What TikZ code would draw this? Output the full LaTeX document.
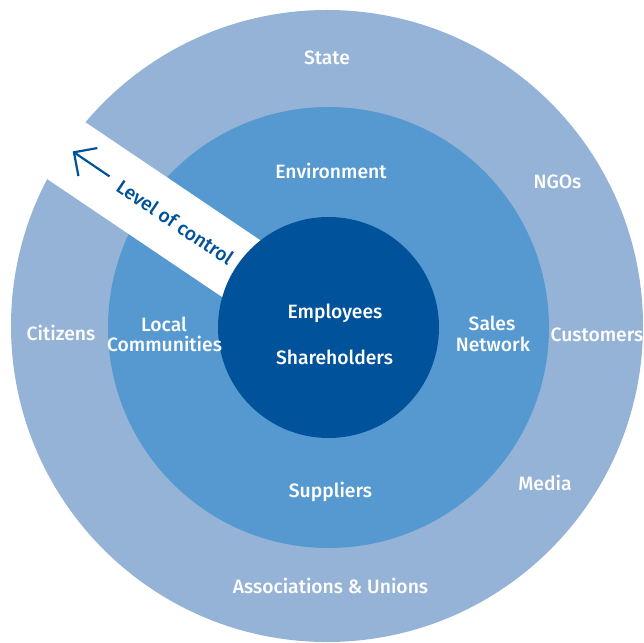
\documentclass[tikz,border=0pt]{standalone}
\usepackage{fontspec}
\setmainfont{Fira Sans}[UprightFont=* Medium]
\definecolor{outerblue}{RGB}{149,179,215}
\definecolor{midblue}{RGB}{85,153,208}
\definecolor{innerblue}{RGB}{0,82,155}
\begin{document}
\begin{tikzpicture}[x=1pt,y=1pt,
  lbl/.style={text=white, inner sep=0pt, text height=13pt, text depth=0pt,
              font=\fontsize{19.3}{23}\selectfont},
  ctrltext/.style={text=innerblue, inner sep=0pt, text height=13pt, text depth=0pt,
              font=\fontsize{19.3}{23}\selectfont},
  ctrlarrow/.style={draw=innerblue, line width=2.2pt, line join=miter}]
\useasboundingbox (-328.5,-314.5) rectangle (315.5,327.5);

% three stakeholder rings
\fill[outerblue] (-1.5,1.5) circle[radius=316];
\fill[midblue] (0,0) circle[radius=220.5];

% white band with the "level of control" pointer
\begin{scope}[rotate=146]
  \fill[white] (0,-34.2) rectangle (430,34.2);
  \coordinate (tail) at (266,-2.8);
  \coordinate (tip) at (309,-2.9);
  \coordinate (armA) at (292,14.3);
  \coordinate (armB) at (292,-19.5);
  \draw[ctrlarrow] (tail) -- (tip);
  \draw[ctrlarrow] (armA) -- (tip) -- (armB);
  \node[ctrltext, rotate=-34] (control) at (186,-0.9) {Level of control};
\end{scope}

\fill[innerblue] (0,0) circle[radius=110.5];

% outer ring
\node[lbl] (state) at (-1.5,269.5) {State};
\node[lbl] (ngos) at (229,145.5) {NGOs};
\node[lbl] (customers) at (268.5,-7.5) {Customers};
\node[lbl] (media) at (216.5,-156.5) {Media};
\node[lbl] (citizens) at (-267.5,-6.5) {Citizens};
\node[lbl] (assoc) at (2,-259.5) {Associations \& Unions};

% middle ring
\node[lbl] (environment) at (2.5,155) {Environment};
\node[lbl] (suppliers) at (2,-163.5) {Suppliers};
\node[lbl] (local) at (-164.5,2.5) {Local};
\node[lbl] (communities) at (-164,-17.5) {Communities};
\node[lbl] (sales) at (163.5,3.5) {Sales};
\node[lbl] (network) at (164.5,-17.5) {Network};

% core
\node[lbl] (employees) at (6.5,15.5) {Employees};
\node[lbl] (shareholders) at (6,-30) {Shareholders};
\end{tikzpicture}
\end{document}
